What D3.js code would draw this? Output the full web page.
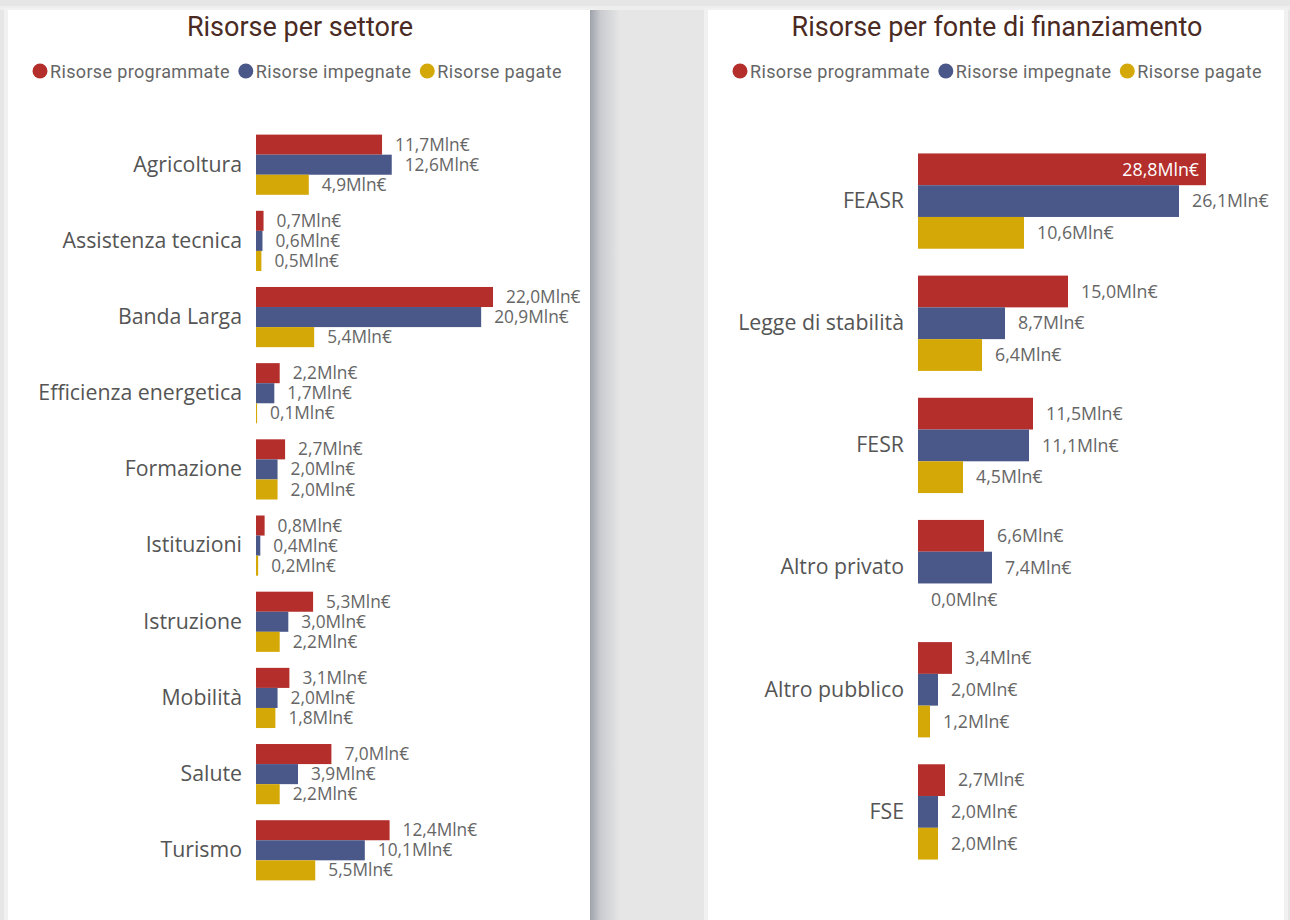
<!DOCTYPE html>
<html>
<head>
<meta charset="utf-8">
<script src="https://cdn.jsdelivr.net/npm/d3@7"></script>
<style>
  body { margin: 0; background: #e6e6e6; }
  svg { display: block; }
  .title { font-family: Roboto, sans-serif; font-weight: 400; fill: #4a2a22; }
  .legend text { font-family: Roboto, sans-serif; fill: #666; }
  .cat { font-family: "Open Sans", sans-serif; fill: #555; }
  .val { font-family: "Open Sans", sans-serif; fill: #666; }
</style>
</head>
<body>
<div id="chart"></div>
<script>
// data
var series = ["Risorse programmate", "Risorse impegnate", "Risorse pagate"];
var colors = ["#b42e2b", "#4a5789", "#d4a806"];

var settori = ["Agricoltura", "Assistenza tecnica", "Banda Larga", "Efficienza energetica", "Formazione",
  "Istituzioni", "Istruzione", "Mobilità", "Salute", "Turismo"];
var settoriProgrammate = [11.7, 0.7, 22.0, 2.2, 2.7, 0.8, 5.3, 3.1, 7.0, 12.4];
var settoriImpegnate = [12.6, 0.6, 20.9, 1.7, 2.0, 0.4, 3.0, 2.0, 3.9, 10.1];
var settoriPagate = [4.9, 0.5, 5.4, 0.1, 2.0, 0.2, 2.2, 1.8, 2.2, 5.5];

var fonti = ["FEASR", "Legge di stabilità", "FESR", "Altro privato", "Altro pubblico", "FSE"];
var fontiProgrammate = [28.8, 15.0, 11.5, 6.6, 3.4, 2.7];
var fontiImpegnate = [26.1, 8.7, 11.1, 7.4, 2.0, 2.0];
var fontiPagate = [10.6, 6.4, 4.5, 0.0, 1.2, 2.0];

var W = 1290, H = 920;

var svg = d3.select("#chart").append("svg")
  .attr("width", W)
  .attr("height", H);

var defs = svg.append("defs");
var grad = defs.append("linearGradient").attr("id", "shadow");
grad.append("stop").attr("offset", "0%").attr("stop-color", "#9ea2aa");
grad.append("stop").attr("offset", "35%").attr("stop-color", "#c9cbcf");
grad.append("stop").attr("offset", "100%").attr("stop-color", "#e6e6e6");

// background
svg.append("rect").attr("width", W).attr("height", H).attr("fill", "#e6e6e6");
svg.append("rect").attr("x", 0).attr("y", 6).attr("width", W).attr("height", 4).attr("fill", "#eeeeee");

var fmt = d3.format(".1f");
function label(v) { return fmt(v).replace(".", ",") + "Mln€"; }

function drawPanel(opt) {
  var g = svg.append("g");

  // panel
  g.append("rect")
    .attr("x", opt.x0 - 4).attr("y", 8)
    .attr("width", opt.x1 - opt.x0 + 8).attr("height", H)
    .attr("fill", "#f1f1f1");
  g.append("rect")
    .attr("x", opt.x0).attr("y", 10)
    .attr("width", opt.x1 - opt.x0).attr("height", H)
    .attr("fill", "#fff");

  if (opt.shadow) {
    g.append("rect")
      .attr("x", opt.x1).attr("y", 10)
      .attr("width", 30).attr("height", H)
      .attr("fill", "url(#shadow)");
  }

  var cx = (opt.x0 + opt.x1) / 2;
  g.append("text")
    .attr("class", "title")
    .attr("x", cx + 1).attr("y", 36)
    .attr("text-anchor", "middle")
    .attr("font-size", 27)
    .text(opt.title);

  // legend
  var leg = g.append("g").attr("class", "legend");
  var lx = opt.legendX;
  series.forEach(function(s, i) {
    leg.append("circle")
      .attr("cx", lx + 7).attr("cy", 71).attr("r", 7.5)
      .attr("fill", colors[i]);
    var t = leg.append("text")
      .attr("x", lx + 17).attr("y", 77.5)
      .attr("font-size", 18)
      .attr("letter-spacing", 0.35)
      .text(s);
    lx += 17 + t.node().getComputedTextLength() + 9;
  });

  var values = [opt.programmate, opt.impegnate, opt.pagate];

  var y = d3.scaleBand()
    .domain(opt.categories)
    .range(opt.yRange)
    .paddingInner(opt.padInner)
    .paddingOuter(opt.padOuter);

  var y1 = d3.scaleBand()
    .domain(d3.range(3))
    .range([0, y.bandwidth()]);

  var x = d3.scaleLinear()
    .domain([0, opt.xMax])
    .range([opt.barX, opt.barX + opt.barW]);

  var yAxis = d3.axisLeft(y).tickSize(0).tickPadding(14);
  var ax = g.append("g")
    .attr("transform", "translate(" + opt.barX + ",0)")
    .call(yAxis);
  ax.select(".domain").remove();
  ax.selectAll("text")
    .attr("class", "cat")
    .attr("font-size", opt.catSize)
    .attr("fill", null);

  opt.categories.forEach(function(c, ci) {
    var grp = g.append("g").attr("transform", "translate(0," + y(c) + ")");
    values.forEach(function(arr, si) {
      var v = arr[ci];
      var by = y1(si);
      var bh = y1.bandwidth();
      if (v > 0) {
        grp.append("rect")
          .attr("x", x(0))
          .attr("y", by)
          .attr("width", Math.max(1, x(v) - x(0)))
          .attr("height", bh)
          .attr("fill", colors[si]);
      }
      var t = grp.append("text")
        .attr("class", "val")
        .attr("y", by + bh / 2)
        .attr("dy", "0.35em")
        .attr("font-size", opt.valSize)
        .text(label(v));
      var tw = t.node().getComputedTextLength();
      if (x(v) + 13 + tw > opt.x1 - 4) {
        t.attr("x", x(v) - 7).attr("text-anchor", "end").style("fill", "#fff");
      } else {
        t.attr("x", x(v) + 13);
      }
    });
  });
}

drawPanel({
  x0: 8, x1: 590, shadow: true,
  title: "Risorse per settore",
  legendX: 33,
  categories: settori,
  programmate: settoriProgrammate,
  impegnate: settoriImpegnate,
  pagate: settoriPagate,
  xMax: 22.0, barX: 256, barW: 237,
  yRange: [127, 888], padInner: 0.21, padOuter: 0.1,
  catSize: 21.3, valSize: 17.3
});

drawPanel({
  x0: 708, x1: 1284, shadow: false,
  title: "Risorse per fonte di finanziamento",
  legendX: 733,
  categories: fonti,
  programmate: fontiProgrammate,
  impegnate: fontiImpegnate,
  pagate: fontiPagate,
  xMax: 28.8, barX: 918, barW: 288,
  yRange: [140, 873], padInner: 0.22, padOuter: 0.11,
  catSize: 21.3, valSize: 17.8
});
</script>
</body>
</html>
